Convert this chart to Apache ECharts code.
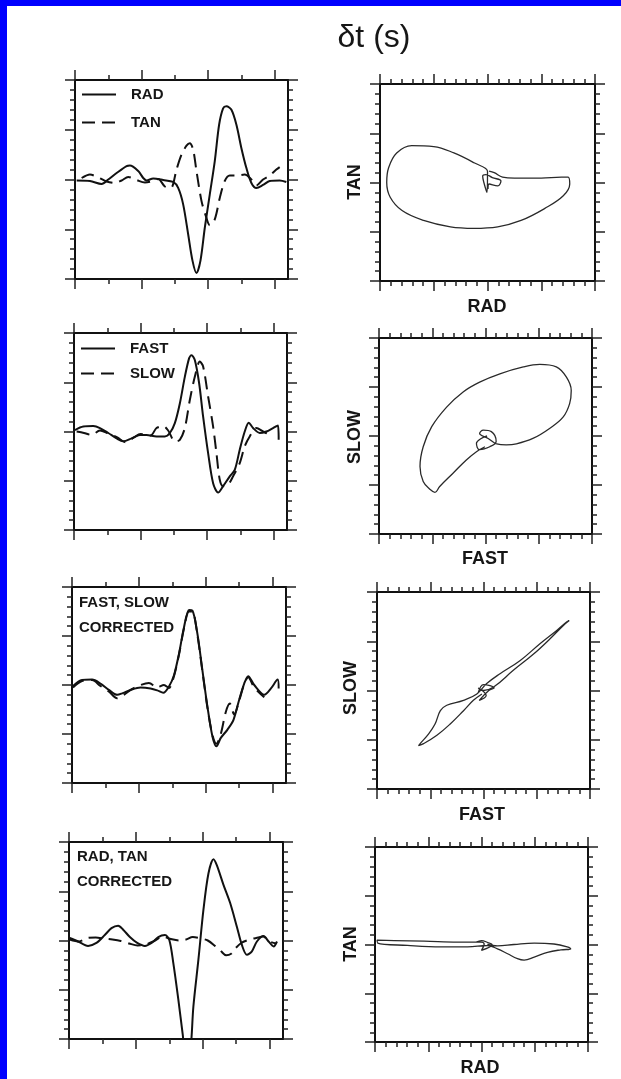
<!DOCTYPE html>
<html><head><meta charset="utf-8">
<script src="https://cdn.jsdelivr.net/npm/echarts@6/dist/echarts.min.js"></script>
<style>html,body{margin:0;padding:0;background:#fff}#c{width:621px;height:1079px}</style>
</head><body><div id="c"></div>
<script>
// ---------- DATA ----------
// waveform panels: [time unit, amplitude]
const rad1 = [[0.05,-0.02],[0.45,-0.03],[0.8,-0.09],[1.0,0],[1.25,0.13],[1.55,0.27],[1.65,0.28],[1.9,0.17],[2.05,0.03],[2.15,-0.02],[2.35,0.02],[2.65,-0.01],[2.95,-0.05],[3.1,-0.17],[3.25,-0.5],[3.4,-1.1],[3.53,-1.63],[3.65,-1.88],[3.77,-1.63],[3.9,-0.97],[4.05,-0.3],[4.2,0.37],[4.33,1.1],[4.45,1.43],[4.55,1.47],[4.7,1.4],[4.85,1.1],[5.0,0.63],[5.15,0.23],[5.3,-0.07],[5.45,-0.17],[5.65,-0.11],[5.85,-0.03],[6.15,-0.02],[6.35,-0.05]];
const tan1 = [[0.2,0.03],[0.45,0.1],[0.7,0.04],[0.95,-0.04],[1.2,-0.07],[1.4,-0.02],[1.6,0.05],[1.85,-0.01],[2.1,-0.06],[2.3,-0.04],[2.5,0.01],[2.7,-0.14],[2.88,-0.17],[3.05,0.2],[3.2,0.5],[3.35,0.68],[3.45,0.73],[3.55,0.6],[3.65,0.17],[3.8,-0.43],[3.93,-0.73],[4.05,-0.92],[4.2,-0.8],[4.35,-0.37],[4.5,-0.03],[4.65,0.08],[4.85,0.08],[5.1,0.1],[5.3,0.0],[5.45,-0.12],[5.65,0.0],[5.85,0.08],[6.05,0.2],[6.15,0.25]];
const fast2 = [[0.03,0.03],[0.28,0.1],[0.58,0.11],[0.78,0.07],[1.03,-0.03],[1.28,-0.14],[1.48,-0.2],[1.73,-0.14],[1.98,-0.07],[2.18,-0.07],[2.48,-0.1],[2.73,-0.1],[2.88,-0.03],[3.03,0.17],[3.18,0.57],[3.33,1.11],[3.46,1.49],[3.53,1.55],[3.63,1.45],[3.76,0.98],[3.88,0.3],[4.03,-0.44],[4.18,-1.05],[4.33,-1.24],[4.48,-1.11],[4.68,-0.91],[4.83,-0.78],[4.98,-0.37],[5.13,0.0],[5.25,0.18],[5.38,0.07],[5.58,-0.03],[5.78,0.0],[5.98,0.07],[6.13,0.12],[6.15,-0.17]];
const slow2 = [[0.08,0.0],[0.3,-0.03],[0.53,-0.07],[0.78,0.02],[1.0,-0.03],[1.3,-0.12],[1.55,-0.22],[1.8,-0.12],[2.0,-0.05],[2.3,-0.08],[2.48,0.07],[2.68,0.11],[2.83,0.02],[3.03,-0.2],[3.18,-0.17],[3.33,0.07],[3.48,0.64],[3.63,1.11],[3.78,1.42],[3.88,1.32],[4.03,0.71],[4.18,0.1],[4.28,-0.44],[4.38,-0.98],[4.48,-1.11],[4.63,-1.08],[4.78,-0.91],[4.98,-0.64],[5.13,-0.3],[5.28,-0.1],[5.48,0.07],[5.68,0.0],[5.88,-0.07]];
const fast3 = [[0.03,-0.02],[0.3,0.1],[0.6,0.11],[0.85,0.03],[1.1,-0.1],[1.35,-0.2],[1.5,-0.17],[1.75,-0.1],[2.05,-0.05],[2.35,-0.07],[2.55,-0.11],[2.73,-0.16],[2.9,-0.03],[3.05,0.2],[3.2,0.64],[3.35,1.18],[3.5,1.53],[3.6,1.52],[3.75,1.05],[3.9,0.3],[4.05,-0.44],[4.2,-1.05],[4.32,-1.25],[4.45,-1.08],[4.65,-0.91],[4.83,-0.71],[5.0,-0.3],[5.15,0.03],[5.27,0.18],[5.45,0.0],[5.75,-0.2],[5.95,-0.07],[6.15,0.11],[6.18,-0.07]];
const slow3 = [[0.03,-0.05],[0.3,0.08],[0.6,0.1],[0.85,-0.02],[1.1,-0.13],[1.35,-0.27],[1.55,-0.2],[1.8,-0.08],[2.05,0.0],[2.3,0.04],[2.55,-0.05],[2.75,0.0],[2.9,-0.06],[3.05,0.18],[3.2,0.62],[3.35,1.16],[3.5,1.5],[3.6,1.5],[3.75,1.02],[3.9,0.28],[4.05,-0.46],[4.2,-1.02],[4.32,-1.2],[4.45,-1.0],[4.6,-0.55],[4.72,-0.38],[4.85,-0.6],[5.0,-0.32],[5.15,0.02],[5.27,0.16],[5.45,-0.05],[5.75,-0.25]];
const rad4 = [[0.02,0.05],[0.27,-0.02],[0.57,-0.11],[0.82,-0.05],[1.07,0.11],[1.27,0.25],[1.47,0.3],[1.62,0.22],[1.82,0.07],[2.04,-0.05],[2.27,-0.11],[2.47,-0.05],[2.67,0.07],[2.87,0.11],[3.0,0.01],[3.12,-0.46],[3.27,-1.2],[3.4,-1.9],[3.5,-2.4],[3.62,-2.3],[3.72,-1.34],[3.87,-0.39],[4.02,0.62],[4.17,1.36],[4.32,1.65],[4.42,1.53],[4.62,1.13],[4.82,0.76],[5.02,0.28],[5.17,-0.09],[5.32,-0.29],[5.47,-0.22],[5.62,-0.02],[5.82,0.09],[5.97,-0.02],[6.12,-0.12],[6.22,-0.02]];
const tan4 = [[0.02,0.02],[0.3,-0.02],[0.55,0.05],[0.8,0.06],[1.05,0.04],[1.3,0.02],[1.55,-0.01],[1.8,-0.06],[2.05,-0.1],[2.3,-0.08],[2.55,-0.01],[2.8,0.08],[3.05,0.03],[3.3,0.0],[3.5,0.02],[3.7,0.07],[3.95,0.04],[4.15,0.0],[4.35,-0.1],[4.55,-0.22],[4.7,-0.3],[4.85,-0.27],[4.95,-0.18],[5.15,-0.05],[5.4,0.02],[5.6,0.05],[5.8,0.08],[6.0,-0.02],[6.2,-0.06]];

// particle-motion panels: [horizontal component, vertical component]
const hodo1 = [[0.01,-0.13],[0.03,-0.03],[0.19,-0.07],[0.25,0.03],[0.09,0.1],[-0.03,0.16],[-0.09,0.13],[-0.06,-0.03],[-0.01,-0.2],[0,0.17],[0,0.23],[-0.25,0.4],[-0.625,0.6],[-1.0,0.73],[-1.41,0.75],[-1.69,0.6],[-1.84,0.3],[-1.875,0],[-1.81,-0.3],[-1.59,-0.57],[-1.19,-0.77],[-0.69,-0.9],[-0.25,-0.93],[0.19,-0.9],[0.625,-0.77],[1.06,-0.53],[1.41,-0.27],[1.53,-0.03],[1.5,0.11],[1.375,0.11],[1.0,0.09],[0.5,0.09],[0.28,0.11],[0.125,0.2],[0.03,0.23]];
const hodo2 = [[0.03,0.0],[-0.08,-0.05],[-0.17,-0.15],[-0.11,-0.28],[0.08,-0.22],[0.2,-0.11],[0.11,0.09],[-0.04,0.12],[-0.11,0.05],[0.05,-0.05],[0.21,-0.16],[0.39,-0.18],[0.58,-0.16],[0.89,-0.05],[1.21,0.16],[1.46,0.39],[1.58,0.66],[1.61,0.93],[1.52,1.2],[1.33,1.41],[1.02,1.46],[0.71,1.41],[0.27,1.27],[-0.11,1.1],[-0.42,0.9],[-0.73,0.59],[-1.01,0.19],[-1.17,-0.22],[-1.23,-0.62],[-1.17,-0.93],[-1.04,-1.09],[-0.95,-1.15],[-0.86,-1.03],[-0.61,-0.76],[-0.36,-0.49],[-0.17,-0.32],[-0.01,-0.22]];
const hodo3 = [[-0.1,-0.05],[0.0,0.12],[0.2,0.05],[0.1,0.0],[-0.08,-0.2],[0.05,-0.1],[-0.1,0.05],[0.0,0.0],[0.19,0.07],[0.56,0.41],[0.94,0.74],[1.25,1.05],[1.5,1.32],[1.61,1.42],[1.56,1.39],[1.375,1.22],[1.06,0.95],[0.69,0.61],[0.31,0.34],[0.06,0.14],[-0.125,-0.07],[-0.375,-0.2],[-0.69,-0.3],[-0.81,-0.41],[-0.91,-0.68],[-1.03,-0.88],[-1.19,-1.08],[-1.22,-1.12],[-1.125,-1.08],[-0.875,-0.91],[-0.625,-0.68],[-0.375,-0.41],[-0.19,-0.2],[-0.03,-0.07]];
const hodo4 = [[-0.1,0.05],[0.0,0.08],[0.12,0.04],[0.2,0.0],[0.0,-0.12],[0.05,0.01],[-0.01,0.05],[-0.45,0.05],[-1.075,0.07],[-1.64,0.08],[-1.96,0.09],[-1.95,0.03],[-1.39,-0.02],[-0.76,-0.05],[-0.26,-0.05],[0.11,-0.02],[0.3,-0.09],[0.49,-0.19],[0.675,-0.29],[0.8,-0.32],[0.99,-0.26],[1.24,-0.16],[1.49,-0.11],[1.675,-0.09],[1.61,-0.05],[1.36,0.01],[0.99,0.03],[0.61,0.0],[0.3,-0.03],[0.11,0.0]];

// tick values
const waveMajorX = [0, 2, 4, 6];
const waveMinorX = [1, 3, 5];
// texts
const titleText = 'δt (s)';
const legend1 = ['RAD', 'TAN'];
const legend2 = ['FAST', 'SLOW'];
const note3 = ['FAST, SLOW', 'CORRECTED'];
const note4 = ['RAD, TAN', 'CORRECTED'];
const hodoX = ['RAD', 'FAST', 'FAST', 'RAD'];
const hodoY = ['TAN', 'SLOW', 'SLOW', 'TAN'];

// ---------- LAYOUT ----------
const FONT = '"Liberation Sans", Arial, Helvetica, sans-serif';
const INK = '#161616';
const waveBoxes = [[75,80,213,199],[74,333,213,197],[72,587,214,196],[69,842,214,197]];
const hodoBoxes = [[380,84,215,197],[379,338,213,196],[377,592,213,197],[375,847,213,195]];

const grids = [], xAxes = [], yAxes = [], series = [];
const tickStyle = {color: '#222', width: 1.5};

function baseAxis(extra) {
  return Object.assign({
    type: 'value', axisLine: {show: false, onZero: false}, axisLabel: {show: false},
    splitLine: {show: false}, minorSplitLine: {show: false},
    axisTick: {show: true, inside: false, length: 10, lineStyle: tickStyle}
  }, extra);
}
function addGrid(b) {
  grids.push({left: b[0], top: b[1], width: b[2], height: b[3], show: true,
    borderColor: '#111', borderWidth: 2, backgroundColor: 'transparent', containLabel: false});
  return grids.length - 1;
}
function yPair(g) {
  const i = yAxes.length;
  ['left', 'right'].forEach(p => yAxes.push(baseAxis({gridIndex: g, position: p, min: -2, max: 2, interval: 1,
    minorTick: {show: true, splitNumber: 5, length: 5, lineStyle: tickStyle}})));
  return i;
}
function waveX(g) {
  const i = xAxes.length;
  ['bottom', 'top'].forEach(p => {
    xAxes.push(baseAxis({gridIndex: g, position: p, min: 0, max: 6.4,
      axisTick: {show: true, length: 10, lineStyle: tickStyle, customValues: waveMajorX},
      axisLabel: {show: false, customValues: waveMajorX}}));
    xAxes.push(baseAxis({gridIndex: g, position: p, min: 0, max: 6.4,
      axisTick: {show: true, length: 5, lineStyle: tickStyle, customValues: waveMinorX},
      axisLabel: {show: false, customValues: waveMinorX}}));
  });
  return i;
}
function hodoXAx(g) {
  const i = xAxes.length;
  ['bottom', 'top'].forEach(p => xAxes.push(baseAxis({gridIndex: g, position: p, min: -2, max: 2, interval: 1,
    minorTick: {show: true, splitNumber: 5, length: 5, lineStyle: tickStyle}})));
  return i;
}
function waveSeries(name, data, xi, yi, dashed) {
  series.push({type: 'line', name, data, xAxisIndex: xi, yAxisIndex: yi, symbol: 'none', showSymbol: false,
    smooth: 0.3, clip: true, silent: true, animation: false, color: '#111',
    itemStyle: {color: '#111'},
    lineStyle: {color: '#111', width: 2, type: dashed ? [13, 7] : 'solid'}});
}
function hodoSeries(name, data, xi, yi) {
  series.push({type: 'line', name, data, xAxisIndex: xi, yAxisIndex: yi, symbol: 'none', showSymbol: false,
    smooth: 0.4, clip: true, silent: true, animation: false, color: '#2a2a2a',
    lineStyle: {color: '#2a2a2a', width: 1.3}});
}

const waveData = [[rad1, tan1, legend1[0], legend1[1]], [fast2, slow2, legend2[0], legend2[1]],
                  [fast3, slow3, 'FAST corrected', 'SLOW corrected'], [rad4, tan4, 'RAD corrected', 'TAN corrected']];
const hodoData = [hodo1, hodo2, hodo3, hodo4];

for (let r = 0; r < 4; r++) {
  const g = addGrid(waveBoxes[r]);
  const xi = waveX(g), yi = yPair(g);
  waveSeries(waveData[r][2], waveData[r][0], xi, yi, false);
  waveSeries(waveData[r][3], waveData[r][1], xi, yi, true);
  const h = addGrid(hodoBoxes[r]);
  const hx = hodoXAx(h), hy = yPair(h);
  hodoSeries('motion ' + (r + 1), hodoData[r], hx, hy);
}

const bold15 = {fontSize: 15, fontWeight: 'bold', fontFamily: FONT, color: INK};
const legendCommon = {orient: 'vertical', itemWidth: 34, itemHeight: 14, selectedMode: false, padding: 0,
  itemStyle: {opacity: 0, borderWidth: 0},
  textStyle: Object.assign({lineHeight: 14, padding: [0, 0, 0, 10]}, bold15)};

const graphic = [
  {type: 'rect', shape: {x: 0, y: 0, width: 7, height: 1079}, style: {fill: '#0000ff'}},
  {type: 'rect', shape: {x: 0, y: 0, width: 621, height: 6}, style: {fill: '#0000ff'}},
  {type: 'text', x: 374, y: 38, style: {text: titleText, fontSize: 32, fontFamily: FONT, fill: INK, align: 'center', verticalAlign: 'middle'}},
  {type: 'text', x: 79, y: 603, style: {text: note3[0], font: 'bold 15px ' + FONT, fill: INK, align: 'left', verticalAlign: 'middle'}},
  {type: 'text', x: 79, y: 628, style: {text: note3[1], font: 'bold 15px ' + FONT, fill: INK, align: 'left', verticalAlign: 'middle'}},
  {type: 'text', x: 77, y: 857, style: {text: note4[0], font: 'bold 15px ' + FONT, fill: INK, align: 'left', verticalAlign: 'middle'}},
  {type: 'text', x: 77, y: 882, style: {text: note4[1], font: 'bold 15px ' + FONT, fill: INK, align: 'left', verticalAlign: 'middle'}}
];
const xLabPos = [[487, 307], [485, 559], [482, 815], [480, 1068]];
const yLabPos = [[355, 182], [355, 437], [351, 688], [351, 944]];
for (let r = 0; r < 4; r++) {
  graphic.push({type: 'text', x: xLabPos[r][0], y: xLabPos[r][1], style: {text: hodoX[r], font: 'bold 18px ' + FONT, fill: INK, align: 'center', verticalAlign: 'middle'}});
  graphic.push({type: 'text', x: yLabPos[r][0], y: yLabPos[r][1], rotation: Math.PI / 2, style: {text: hodoY[r], font: 'bold 18px ' + FONT, fill: INK, align: 'center', verticalAlign: 'middle'}});
}

const chart = echarts.init(document.getElementById('c'), null, {renderer: 'canvas'});
chart.setOption({
  backgroundColor: '#ffffff',
  animation: false,
  grid: grids,
  xAxis: xAxes,
  yAxis: yAxes,
  legend: [
    Object.assign({data: legend1, left: 81, top: 87, itemGap: 13}, legendCommon),
    Object.assign({data: legend2, left: 80, top: 341, itemGap: 10}, legendCommon)
  ],
  series: series,
  graphic: graphic
});
</script></body></html>
